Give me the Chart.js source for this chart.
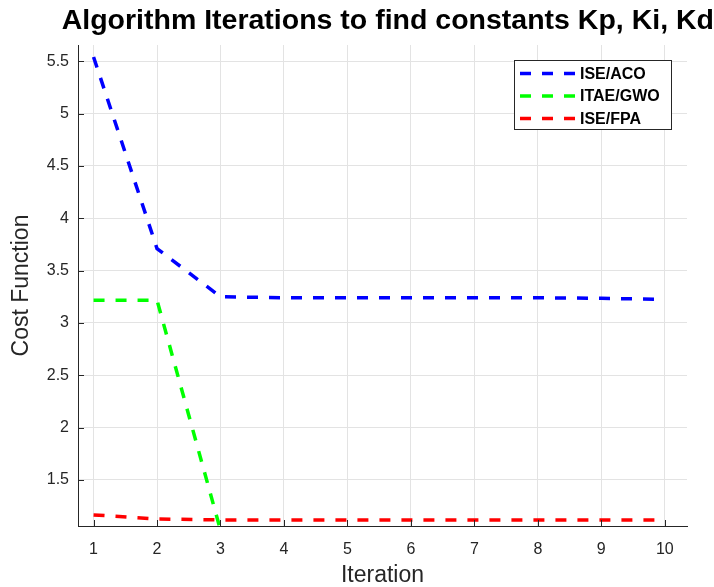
<!DOCTYPE html>
<html>
<head>
<meta charset="utf-8">
<script src="https://cdn.jsdelivr.net/npm/chart.js@4"></script>
<style>
  html, body { margin: 0; padding: 0; background: #fff; }
  #wrap { width: 714px; height: 587px; }
</style>
</head>
<body>
<div id="wrap"><canvas id="canvas" width="714" height="587"></canvas></div>
<script>
// data
const iterations = [1, 2, 3, 4, 5, 6, 7, 8, 9, 10];
const iseAco = [5.54, 3.71, 3.25, 3.24, 3.24, 3.24, 3.24, 3.24, 3.235, 3.225];
const itaeGwo = [3.217, 3.217, 1.02, 1.02, 1.02, 1.02, 1.02, 1.02, 1.02, 1.02];
const iseFpa = [1.166, 1.127, 1.118, 1.118, 1.118, 1.118, 1.118, 1.118, 1.118, 1.118];
const xTicks = [1, 2, 3, 4, 5, 6, 7, 8, 9, 10];
const yTicks = [1.5, 2, 2.5, 3, 3.5, 4, 4.5, 5, 5.5];

const axisColor = "#262626";
const fontFam = "'Liberation Sans', Arial, sans-serif";
const toPoints = (vals) => iterations.map((it, i) => ({ x: it, y: vals[i] }));

function series(label, vals, color) {
  return {
    label: label,
    data: toPoints(vals),
    borderColor: color,
    backgroundColor: color,
    borderWidth: 3.5,
    borderDash: [11, 11],
    pointRadius: 0,
    tension: 0,
    fill: false,
  };
}

// inward tick marks + framed legend, matlab style
const matlabBits = {
  id: "matlabBits",
  afterDraw(chart) {
    const ctx = chart.ctx;
    const area = chart.chartArea;
    const xs = chart.scales.x, ys = chart.scales.y;
    ctx.save();
    ctx.strokeStyle = axisColor;
    ctx.lineWidth = 1;
    ctx.beginPath();
    xTicks.forEach((t) => {
      const px = Math.round(xs.getPixelForValue(t)) + 0.5;
      ctx.moveTo(px, area.bottom);
      ctx.lineTo(px, area.bottom - 6);
    });
    yTicks.forEach((t) => {
      const py = Math.round(ys.getPixelForValue(t)) + 0.5;
      ctx.moveTo(area.left, py);
      ctx.lineTo(area.left + 6, py);
    });
    ctx.stroke();

    // legend box
    const bx = 514.5, by = 60.5, bw = 157, bh = 69;
    ctx.fillStyle = "#fff";
    ctx.fillRect(bx, by, bw, bh);
    ctx.strokeStyle = axisColor;
    ctx.strokeRect(bx, by, bw, bh);
    ctx.font = "bold 16px " + fontFam;
    ctx.textBaseline = "middle";
    chart.data.datasets.forEach((ds, i) => {
      const y = 73.5 + i * 22.5;
      ctx.strokeStyle = ds.borderColor;
      ctx.lineWidth = 3.5;
      ctx.setLineDash([11, 11]);
      ctx.beginPath();
      ctx.moveTo(520, y);
      ctx.lineTo(577, y);
      ctx.stroke();
      ctx.setLineDash([]);
      ctx.fillStyle = "#000";
      ctx.fillText(ds.label, 580, y + 1);
    });
    ctx.restore();
  },
};

new Chart(document.getElementById("canvas"), {
  type: "line",
  data: {
    datasets: [
      series("ISE/ACO", iseAco, "#0000ff"),
      series("ITAE/GWO", itaeGwo, "#00ff00"),
      series("ISE/FPA", iseFpa, "#ff0000"),
    ],
  },
  options: {
    responsive: false,
    animation: false,
    layout: { padding: 0 },
    plugins: {
      legend: { display: false },
      tooltip: { enabled: false },
      title: {
        display: true,
        fullSize: true,
        align: "end",
        text: "Algorithm Iterations to find constants Kp, Ki, Kd",
        color: "#000",
        font: { family: fontFam, size: 28.5, weight: "bold" },
        padding: { top: 4.5, bottom: 6.3 },
      },
    },
    scales: {
      x: {
        type: "linear",
        min: 0.755,
        max: 10.35,
        afterBuildTicks: (s) => { s.ticks = xTicks.map((v) => ({ value: v })); },
        afterFit: (s) => { s.height = 61; },
        grid: { color: "#e3e3e3", tickLength: 0, drawTicks: false },
        border: { display: true, color: axisColor, width: 1 },
        ticks: {
          color: axisColor,
          padding: 14,
          font: { family: fontFam, size: 16 },
        },
        title: {
          display: true,
          text: "Iteration",
          color: axisColor,
          padding: { top: 0, bottom: -2 },
          font: { family: fontFam, size: 23 },
        },
      },
      y: {
        min: 1.06,
        max: 5.655,
        afterBuildTicks: (s) => { s.ticks = yTicks.map((v) => ({ value: v })); },
        afterFit: (s) => { s.width = 78; },
        grid: { color: "#e3e3e3", tickLength: 0, drawTicks: false },
        border: { display: true, color: axisColor, width: 1 },
        ticks: {
          color: axisColor,
          padding: 9,
          font: { family: fontFam, size: 16 },
          callback: (v) => String(v),
        },
        title: {
          display: true,
          text: "Cost Function",
          color: axisColor,
          padding: { top: 8, bottom: 0 },
          font: { family: fontFam, size: 23 },
        },
      },
      // empty right-hand spacer so the plot stops short of the edge
      yRight: {
        position: "right",
        afterFit: (s) => { s.width = 27; },
        grid: { display: false },
        border: { display: false },
        ticks: { display: false },
      },
    },
  },
  plugins: [matlabBits],
});
</script>
</body>
</html>
